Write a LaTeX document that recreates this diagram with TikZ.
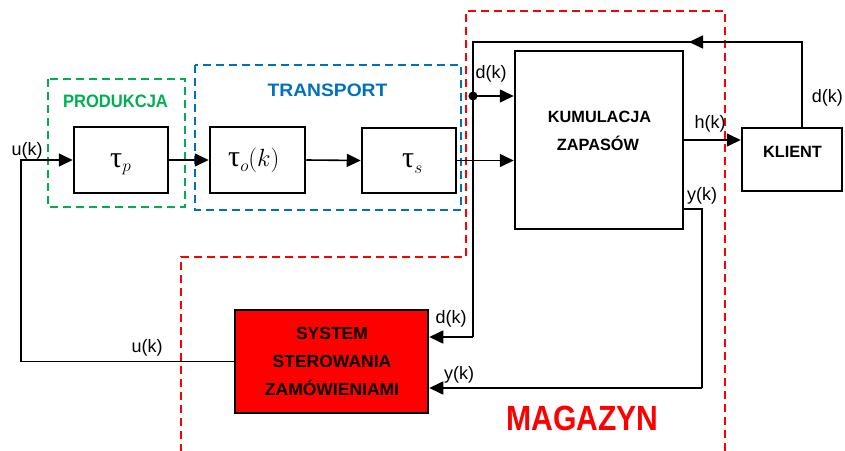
\documentclass[tikz,border=0pt]{standalone}
\usepackage{fontspec}
\usepackage{graphicx}
\setmainfont{Liberation Sans}
\newfontfamily\serifgr{Liberation Serif}
\usetikzlibrary{arrows.meta}
\definecolor{grn}{RGB}{0,176,80}
\definecolor{blu}{RGB}{0,112,192}
\definecolor{rd}{RGB}{255,0,0}
\begin{document}
\begin{tikzpicture}[x=1pt,y=-1pt,
 blk/.style={draw=black, line width=2.5pt, inner sep=0pt, fill=white},
 conn/.style={draw=black, line width=1.6pt},
 arr/.style={conn,-{Triangle[length=14pt,width=13pt]}},
 zone/.style={dash pattern=on 8pt off 5pt, line width=2pt},
 lbl/.style={anchor=base, inner sep=0pt, font=\fontsize{18}{18}\selectfont},
 btxt/.style={anchor=base, inner sep=0pt, font=\bfseries\fontsize{16.3}{16.3}\selectfont},
 stxt/.style={anchor=base, inner sep=0pt, font=\bfseries\fontsize{17.5}{17.5}\selectfont},
 tau/.style={anchor=base west, inner sep=0pt},
]
\useasboundingbox (0,0) rectangle (845,450);
% zones
\draw[zone, grn] (48,79) rectangle (185,207);
\draw[zone, blu] (195,65) rectangle (461,210);
\draw[zone, rd] (181,452) -- (181,257) -- (466,257) -- (466,11) -- (725,11) -- (725,452);
% blocks
\node[blk, minimum width=94pt, minimum height=66pt] (tp) at (121,160) {};
\node[blk, minimum width=95pt, minimum height=66pt] (to) at (257.5,160) {};
\node[blk, minimum width=94pt, minimum height=65pt] (ts) at (409,160.5) {};
\node[blk, minimum width=168pt, minimum height=178pt] (kum) at (599,140) {};
\node[blk, minimum width=100pt, minimum height=63pt] (kl) at (792,159.5) {};
\node[blk, minimum width=193pt, minimum height=103pt, fill=rd] (sys) at (331.5,361.5) {};
% block texts
\node[tau] (tpt) at (110,167) {{\serifgr\fontsize{30}{30}\selectfont τ}\raisebox{-4pt}{\fontsize{19}{19}\selectfont$p$}};
\node[tau] (tot) at (228,166) {{\serifgr\fontsize{30}{30}\selectfont τ}\raisebox{-5pt}{\fontsize{19}{19}\selectfont$o$}{\fontsize{30}{30}\selectfont$(k)$}};
\node[tau] (tst) at (402,167) {{\serifgr\fontsize{30}{30}\selectfont τ}\raisebox{-6pt}{\fontsize{19}{19}\selectfont$s$}};
\node[btxt] (k1) at (599.5,122) {KUMULACJA};
\node[btxt] (k2) at (598,150) {ZAPASÓW};
\node[btxt] (klt) at (792.5,157) {KLIENT};
\node[stxt] (s1) at (332,339) {SYSTEM};
\node[stxt] (s2) at (332,367) {STEROWANIA};
\node[stxt] (s3) at (332,395) {ZAMÓWIENIAMI};
% zone titles
\node[anchor=base, inner sep=0pt, text=grn, font=\bfseries\fontsize{18}{18}\selectfont] (prod) at (115.5,107) {\scalebox{0.92}[1]{PRODUKCJA}};
\node[anchor=base, inner sep=0pt, text=blu, font=\bfseries\fontsize{18}{18}\selectfont] (trans) at (327.5,96) {\scalebox{1.07}[1]{TRANSPORT}};
\node[anchor=base, inner sep=0pt, text=rd, font=\bfseries\fontsize{35}{35}\selectfont] (mag) at (582.5,430) {\scalebox{0.86}[1]{MAGAZYN}};
% coordinates
\coordinate (ux) at (21,0);
\coordinate (dx) at (473,0);
\coordinate (topy) at (0,42);
\coordinate (kc) at (802,0);
\coordinate (dot) at (473,96);
\coordinate (yx) at (702,0);
\coordinate (yy) at (0,209);
\coordinate (sysd) at (0,337);
\coordinate (sysy) at (0,388);
\coordinate (midtip) at (689,42);
% connectors
\draw[arr] (sys.west) -- (sys.west -| ux) -- (ux |- tp.west) -- (tp.west);
\draw[arr] (tp.east) -- (to.west);
\draw[arr] (to.east) -- (ts.west);
\draw[arr] (ts.east) -- (ts.east -| kum.west);
\draw[conn] (kc |- kl.north) -- (kc |- topy) -- (dx |- topy) -- (dx |- sysd);
\draw[arr] (kc |- topy) -- (midtip);
\draw[arr] (dx |- sysd) -- (sys.east |- sysd);
\fill (dot) circle (4.5pt);
\draw[arr] (dot) -- (dot -| kum.west);
\draw[arr] (kum.east) -- (kum.east -| kl.west);
\draw[conn] (kum.east |- yy) -- (yx |- yy) -- (yx |- sysy);
\draw[arr] (yx |- sysy) -- (sys.east |- sysy);
% labels
\node[lbl] (lu1) at (27,155) {u(k)};
\node[lbl] (ld1) at (491,78) {d(k)};
\node[lbl, anchor=base east] (ld2) at (843,102) {d(k)};
\node[lbl] (lh) at (710,128) {h(k)};
\node[lbl] (ly1) at (702,200) {y(k)};
\node[lbl] (ld3) at (451,323) {d(k)};
\node[lbl] (ly2) at (459,379) {y(k)};
\node[lbl] (lu2) at (147,352) {u(k)};
\end{tikzpicture}
\end{document}
